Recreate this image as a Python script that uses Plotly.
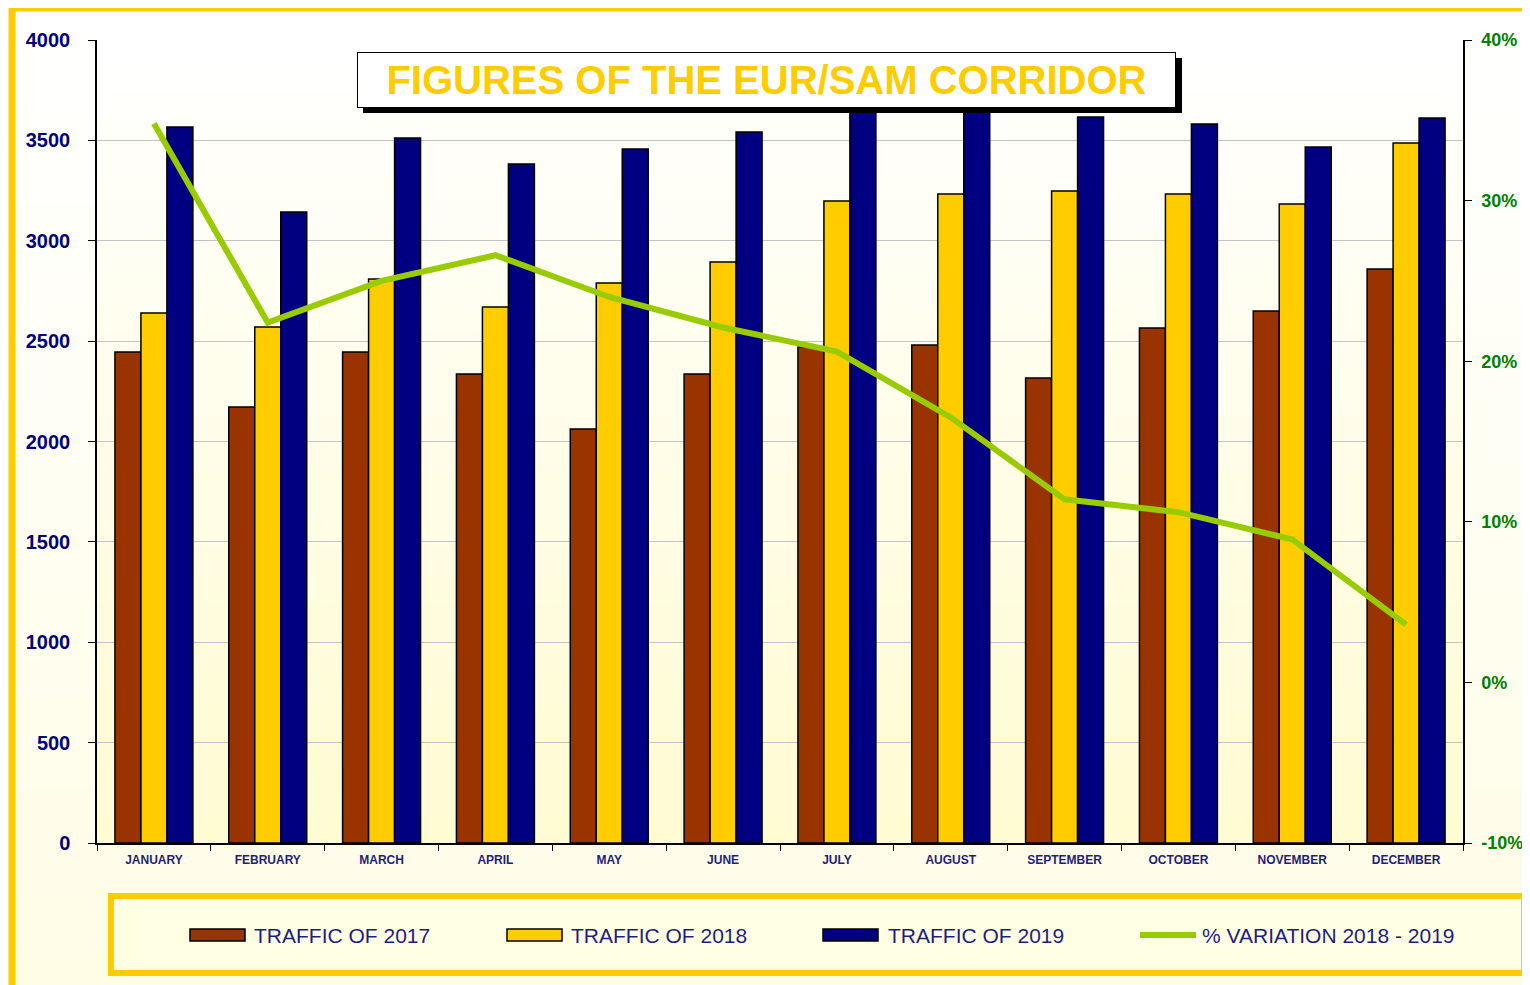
import plotly.graph_objects as go

# ---------------- data ----------------
months = ["JANUARY", "FEBRUARY", "MARCH", "APRIL", "MAY", "JUNE", "JULY",
          "AUGUST", "SEPTEMBER", "OCTOBER", "NOVEMBER", "DECEMBER"]
traffic_2017 = [2446, 2172, 2446, 2336, 2062, 2336, 2471, 2481, 2316, 2565, 2650, 2859]
traffic_2018 = [2640, 2570, 2810, 2670, 2790, 2894, 3198, 3233, 3248, 3233, 3183, 3487]
traffic_2019 = [3567, 3143, 3512, 3382, 3457, 3542, 3857, 3766, 3616, 3582, 3467, 3611]
variation_pct = [34.8, 22.4, 25.0, 26.6, 24.0, 22.1, 20.6, 16.5, 11.4, 10.6, 8.9, 3.6]
series_names = ["TRAFFIC OF 2017", "TRAFFIC OF 2018", "TRAFFIC OF 2019",
                "% VARIATION 2018 - 2019"]
title_text = "FIGURES OF THE EUR/SAM CORRIDOR"
left_ticks = [0, 500, 1000, 1500, 2000, 2500, 3000, 3500, 4000]
right_ticks = [-10, 0, 10, 20, 30, 40]
right_tick_labels = [f"{v}%" for v in right_ticks]

# ---------------- style ----------------
OFF = 8                      # page body margin
W, H = 1530 - OFF, 985 - OFF
L, R, T, B = 97, 1463, 40, 843   # plot area in page pixels
C2017, C2018, C2019, CLINE = "#993300", "#FFCC00", "#000080", "#99CC00"
GOLD = "#FFCC00"
NAVY = "#1E1E80"
SANS = "Liberation Sans, Arial, sans-serif"


def px(x):
    return (x - L) / (R - L)


def py(y):
    return (B - y) / (B - T)


def mix(c1, c2, t):
    a = [int(c1[i:i + 2], 16) for i in (1, 3, 5)]
    b = [int(c2[i:i + 2], 16) for i in (1, 3, 5)]
    return "#" + "".join(f"{round(a[k] + (b[k] - a[k]) * t):02X}" for k in range(3))


fig = go.Figure()
bar_line = dict(color="black", width=1.5)
fig.add_trace(go.Bar(x=months, y=traffic_2017, name=series_names[0],
                     marker=dict(color=C2017, line=bar_line)))
fig.add_trace(go.Bar(x=months, y=traffic_2018, name=series_names[1],
                     marker=dict(color=C2018, line=bar_line)))
fig.add_trace(go.Bar(x=months, y=traffic_2019, name=series_names[2],
                     marker=dict(color=C2019, line=bar_line)))
fig.add_trace(go.Scatter(x=months, y=variation_pct, name=series_names[3], yaxis="y2",
                         mode="lines", line=dict(color=CLINE, width=6)))

shapes = []
n = 30
# paper background gradient
for i in range(n):
    y0 = OFF + i * H / n
    y1 = OFF + (i + 1) * H / n + 1
    shapes.append(dict(type="rect", xref="paper", yref="paper", layer="below",
                       x0=px(0), x1=px(1540), y0=py(y0), y1=py(y1),
                       fillcolor=mix("#FFFFFF", "#FFFDE6", i / (n - 1)),
                       line=dict(width=0)))
# plot area gradient
for i in range(n):
    y0 = T + i * (B - T) / n
    y1 = T + (i + 1) * (B - T) / n + 1
    shapes.append(dict(type="rect", xref="paper", yref="paper", layer="below",
                       x0=0, x1=1, y0=py(y0), y1=py(min(y1, B)),
                       fillcolor=mix("#FFFFFF", "#FFFBD2", i / (n - 1)),
                       line=dict(width=0)))
# outer gold frame
shapes.append(dict(type="rect", xref="paper", yref="paper", layer="below",
                   x0=px(12), x1=px(1545), y0=py(8), y1=py(1000),
                   line=dict(color=GOLD, width=7)))
# legend box
shapes.append(dict(type="rect", xref="paper", yref="paper", layer="below",
                   x0=px(111), x1=px(1524), y0=py(896), y1=py(973),
                   fillcolor="#FFFFE4", line=dict(color=GOLD, width=6)))
# title shadow
shapes.append(dict(type="rect", xref="paper", yref="paper", layer="above",
                   x0=px(363), x1=px(1182), y0=py(58), y1=py(113),
                   fillcolor="black", line=dict(width=0)))

# manual legend
leg_y = 935
swatch_x = [190, 507, 823]
swatch_colors = [C2017, C2018, C2019]
for sx, col in zip(swatch_x, swatch_colors):
    shapes.append(dict(type="rect", xref="paper", yref="paper", layer="above",
                       x0=px(sx), x1=px(sx + 55), y0=py(leg_y - 6), y1=py(leg_y + 6),
                       fillcolor=col, line=dict(color="black", width=1.5)))
shapes.append(dict(type="line", xref="paper", yref="paper", layer="above",
                   x0=px(1140), x1=px(1196), y0=py(leg_y), y1=py(leg_y),
                   line=dict(color=CLINE, width=6)))

annotations = [
    dict(text=title_text, xref="paper", yref="paper",
         x=px(766.5), y=py(80), xanchor="center", yanchor="middle",
         showarrow=False, bgcolor="white", bordercolor="black", borderwidth=1,
         width=815, height=52,
         font=dict(family=SANS, size=40, color=GOLD, weight="bold")),
]
text_x = [252, 569, 886, 1200]
for tx, name in zip(text_x, series_names):
    annotations.append(dict(text=name, xref="paper", yref="paper",
                            x=px(tx), y=py(leg_y), xanchor="left", yanchor="middle",
                            showarrow=False,
                            font=dict(family=SANS, size=21, color=NAVY)))

fig.update_layout(
    width=W, height=H,
    margin=dict(l=L - OFF, r=W - (R - OFF), t=T - OFF, b=H - (B - OFF), pad=0,
                autoexpand=False),
    paper_bgcolor="white", plot_bgcolor="rgba(0,0,0,0)",
    barmode="group", bargap=0.315, bargroupgap=0,
    showlegend=False,
    shapes=shapes, annotations=annotations,
    xaxis=dict(showline=True, linecolor="black", linewidth=1.5, automargin=False,
               ticks="outside", tickson="boundaries", ticklen=6, tickcolor="black",
               ticklabelstandoff=5,
               tickfont=dict(family=SANS, size=12, color=NAVY, weight="bold"),
               showgrid=False),
    yaxis=dict(range=[0, 4000], tickvals=left_ticks, showline=True, linecolor="black",
               linewidth=1.5, ticks="outside", ticklen=7, tickcolor="black",
               showgrid=True, gridcolor="#C4C4C4", gridwidth=1, zeroline=False,
               ticklabelstandoff=14, automargin=False,
               tickfont=dict(family=SANS, size=20, color="#000080", weight="bold")),
    yaxis2=dict(range=[-10, 40], tickvals=right_ticks, ticktext=right_tick_labels,
                overlaying="y", side="right", automargin=False,
                showline=True, linecolor="black", linewidth=1.5, ticks="outside",
                ticklen=7, tickcolor="black", showgrid=False, zeroline=False,
                ticklabelstandoff=6,
                tickfont=dict(family=SANS, size=18, color="#008000", weight="bold")),
)

fig.write_html("out.html")
